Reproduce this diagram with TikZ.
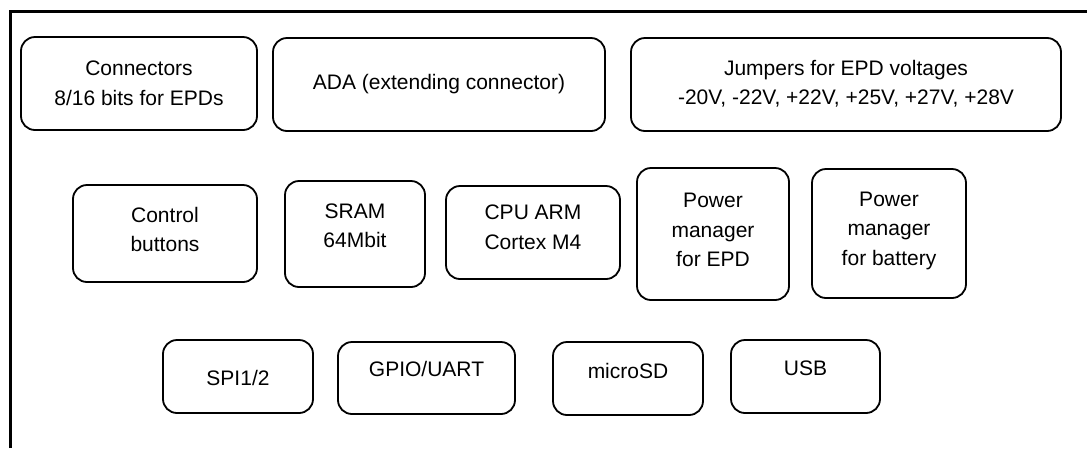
\documentclass[tikz,border=0pt]{standalone}
\usepackage{fontspec}
\setmainfont{Liberation Sans}
\usepackage{tikz}
\tikzset{
    blk/.style={draw,line width=1.8pt,rounded corners=14pt,inner sep=0pt},
    txt/.style={align=center,inner sep=0pt,font=\fontsize{21}{29.5}\selectfont},
    frame/.style={line width=3pt}
}
% name, centre x, centre y, width, height, text raise, text
\newcommand\block[7]{
    \node[blk,minimum width=#4pt,minimum height=#5pt,
        label={[txt,yshift=#6pt]center:{#7}}] (#1) at (#2,#3) {};
}

\begin{document}
\begin{tikzpicture}[x=1pt,y=-1pt]
        \useasboundingbox (0,0) rectangle (1087,448);
        \draw[frame] (10,448) -- (10,11) -- (1087,11);

        \block{conn}{139}{83.5}{236}{93}{0}{Connectors\\8/16 bits for EPDs}
        \block{ada}{439}{84.5}{332}{93}{0}{ADA (extending connector)}
        \block{jump}{846}{84.5}{430}{93}{1}{Jumpers for EPD voltages\\-20V, -22V, +22V, +25V, +27V, +28V}

        \block{ctrl}{165}{233.5}{184}{97}{4}{Control\\buttons}
        \block{sram}{355}{234}{140}{106}{8}{SRAM\\64Mbit}
        \block{cpu}{533}{232.5}{174}{93}{5}{CPU ARM\\Cortex M4}
        \block{pepd}{713}{234}{152}{132}{4}{Power\\manager\\for EPD}
        \block{pbat}{889}{233.5}{154}{129}{3}{Power\\manager\\for battery}

        \block{spi}{238}{376.5}{150}{73}{-1}{SPI1/2}
        \block{gpio}{426.5}{378}{177}{72}{9}{GPIO/UART}
        \block{msd}{628}{378.5}{150}{73}{8}{microSD}
        \block{usb}{805.5}{376.5}{149}{73}{8}{USB}
    \end{tikzpicture}
\end{document}
